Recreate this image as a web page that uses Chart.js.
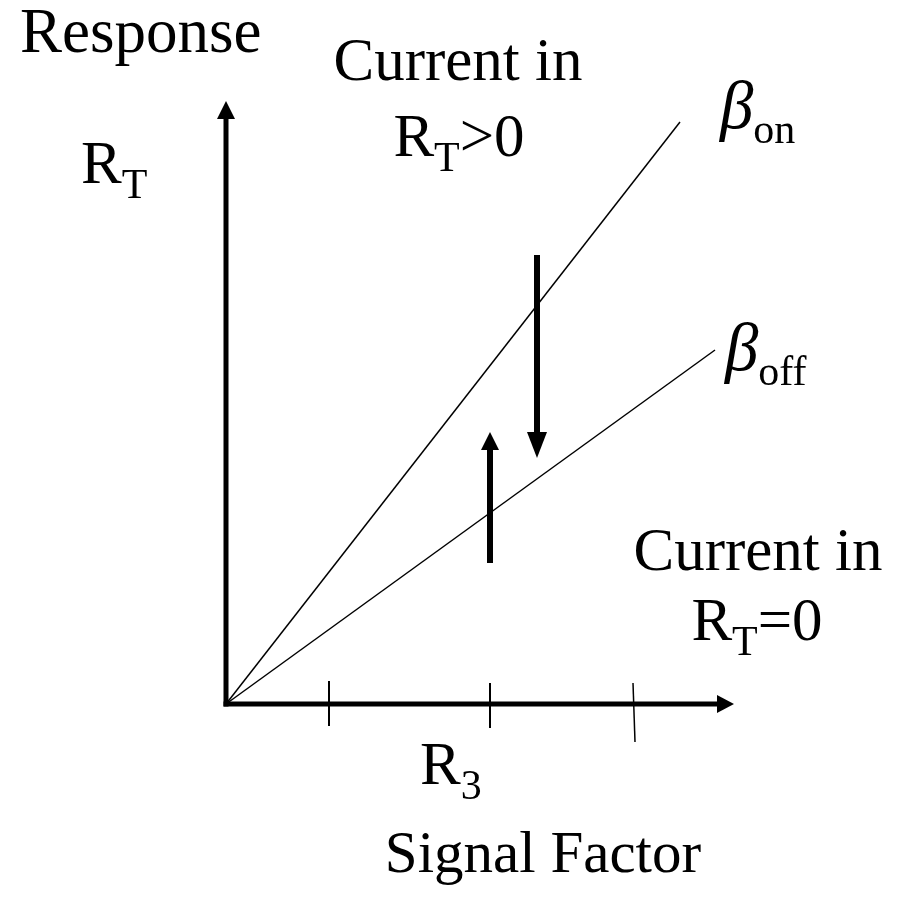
<!DOCTYPE html>
<html>
<head>
<meta charset="utf-8">
<script src="https://cdn.jsdelivr.net/npm/chart.js@4.4.1/dist/chart.umd.min.js"></script>
<style>
  html, body { margin: 0; padding: 0; background: #fff; }
  #wrap { width: 907px; height: 915px; position: relative; }
</style>
</head>
<body>
<div id="wrap"><canvas id="grafico"></canvas></div>
<script>
// data space: origin of the sketch at (0,0), 1 unit = 100 px
var xAxisLine   = [{x: -0.025, y: 0}, {x: 4.91, y: 0}];
var yAxisLine   = [{x: 0, y: -0.025}, {x: 0, y: 5.85}];
var betaOn      = [{x: 0, y: 0}, {x: 4.54, y: 5.82}];
var betaOff     = [{x: 0, y: 0}, {x: 4.89, y: 3.54}];
var arrowDown   = [{x: 3.11, y: 4.49}, {x: 3.11, y: 2.72}];
var arrowUp     = [{x: 2.64, y: 1.41}, {x: 2.64, y: 2.54}];
var tick1       = [{x: 1.03, y: 0.23}, {x: 1.03, y: -0.22}];
var tick2       = [{x: 2.64, y: 0.21}, {x: 2.64, y: -0.24}];
var tick3       = [{x: 4.07, y: 0.21}, {x: 4.09, y: -0.38}];

// text runs: [text, sub?, italic?]
var txtResponse   = [['Response']];
var txtRT         = [['R'], ['T', true]];
var txtCurrentIn  = [['Current in']];
var txtRTpos      = [['R'], ['T', true], ['>0']];
var txtRTzero     = [['R'], ['T', true], ['=0']];
var txtBetaOn     = [['\u03B2', false, true], ['on', true]];
var txtBetaOff    = [['\u03B2', false, true], ['off', true]];
var txtR3         = [['R'], ['3', true]];
var txtSignal     = [['Signal Factor']];

var labels = [
    {runs: txtResponse,  x: -2.06, y: 6.52, align: 'left', size: 63},
    {runs: txtRT,        x: -1.45, y: 5.21, align: 'left'},
    {runs: txtCurrentIn, x: 2.32,  y: 6.24, align: 'center'},
    {runs: txtRTpos,     x: 2.33,  y: 5.48, align: 'center'},
    {runs: txtBetaOn,    x: 4.94,  y: 5.76, align: 'left'},
    {runs: txtBetaOff,   x: 4.99,  y: 3.34, align: 'left'},
    {runs: txtCurrentIn, x: 5.32,  y: 1.34, align: 'center'},
    {runs: txtRTzero,    x: 5.31,  y: 0.64, align: 'center'},
    {runs: txtR3,        x: 1.94,  y: -0.80, align: 'left'},
    {runs: txtSignal,    x: 3.17,  y: -1.68, align: 'center', size: 59}
];

var FONT = '"Liberation Serif", "Times New Roman", serif';
var mainSize = 61, subSize = 42, subDrop = 15, greekSize = 67;

function fontFor(run, size) {
    var s = run[1] ? subSize : (run[2] ? greekSize : (size || mainSize));
    return (run[2] ? 'italic ' : '') + s + 'px ' + FONT;
}

var textPlugin = {
    id: 'sketchText',
    afterDraw: function (chart) {
        var ctx = chart.ctx;
        var xs = chart.scales.x, ys = chart.scales.y;
        ctx.save();
        ctx.fillStyle = '#000';
        ctx.textBaseline = 'alphabetic';
        ctx.textAlign = 'left';
        labels.forEach(function (lab) {
            var w = 0;
            lab.runs.forEach(function (r) { ctx.font = fontFor(r, lab.size); w += ctx.measureText(r[0]).width; });
            var px = xs.getPixelForValue(lab.x);
            var py = ys.getPixelForValue(lab.y);
            if (lab.align === 'center') px -= w / 2;
            lab.runs.forEach(function (r) {
                ctx.font = fontFor(r, lab.size);
                ctx.fillText(r[0], px, py + (r[1] ? subDrop : 0));
                px += ctx.measureText(r[0]).width;
            });
        });
        ctx.restore();
    }
};

var arrowPlugin = {
    id: 'arrowHeads',
    afterDatasetsDraw: function (chart) {
        var ctx = chart.ctx;
        chart.data.datasets.forEach(function (ds, i) {
            if (!ds.arrowHead) return;
            var pts = chart.getDatasetMeta(i).data;
            var a = pts[pts.length - 2], b = pts[pts.length - 1];
            var dx = b.x - a.x, dy = b.y - a.y;
            var d = Math.sqrt(dx * dx + dy * dy);
            var ux = dx / d, uy = dy / d;
            var L = ds.arrowHead.len, hw = ds.arrowHead.width / 2;
            ctx.save();
            ctx.fillStyle = ds.borderColor;
            ctx.beginPath();
            ctx.moveTo(b.x + ux * L, b.y + uy * L);
            ctx.lineTo(b.x - uy * hw, b.y + ux * hw);
            ctx.lineTo(b.x + uy * hw, b.y - ux * hw);
            ctx.closePath();
            ctx.fill();
            ctx.restore();
        });
    }
};

function seg(data, width, head) {
    return {
        data: data,
        showLine: true,
        borderColor: '#000',
        backgroundColor: '#000',
        borderWidth: width,
        pointRadius: 0,
        pointHoverRadius: 0,
        tension: 0,
        arrowHead: head
    };
}

var ctx = document.getElementById('grafico').getContext('2d');
var grafico = new Chart(ctx, {
    type: 'scatter',
    data: {
        datasets: [
            seg(betaOn, 1.5),
            seg(betaOff, 1.5),
            seg(tick1, 2),
            seg(tick2, 2),
            seg(tick3, 1.5),
            seg(xAxisLine, 5, {len: 17, width: 18}),
            seg(yAxisLine, 5, {len: 18, width: 18}),
            seg(arrowDown, 6, {len: 26, width: 20}),
            seg(arrowUp, 6, {len: 18, width: 18})
        ]
    },
    options: {
        responsive: true,
        maintainAspectRatio: false,
        animation: false,
        layout: { padding: 0 },
        plugins: {
            legend: { display: false },
            tooltip: { enabled: false }
        },
        scales: {
            x: { type: 'linear', display: false, min: -2.26, max: 6.81 },
            y: { type: 'linear', display: false, min: -2.11, max: 7.04 }
        }
    },
    plugins: [arrowPlugin, textPlugin]
});
</script>
</body>
</html>
